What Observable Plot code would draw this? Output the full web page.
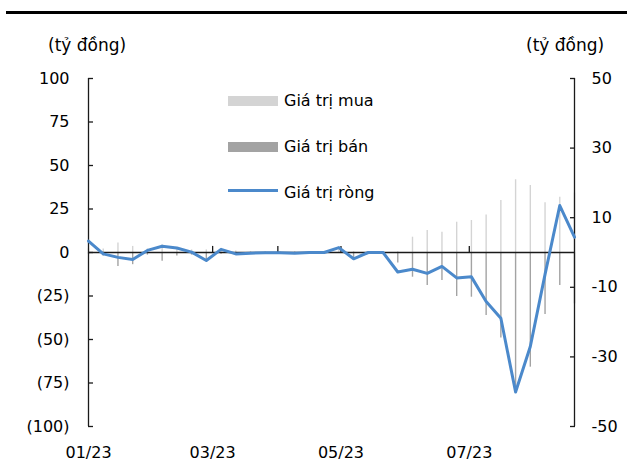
<!DOCTYPE html>
<html>
<head>
<meta charset="utf-8">
<script src="https://cdn.jsdelivr.net/npm/d3@7"></script>
<script src="https://cdn.jsdelivr.net/npm/@observablehq/plot@0.6"></script>
<style>
  html, body { margin: 0; padding: 0; background: #fff; }
  #wrap { position: relative; width: 627px; height: 464px; font-family: "DejaVu Sans", sans-serif; color: #000; overflow: hidden; }
  #wrap svg { position: absolute; left: 0; top: 0; }
  .topline { position: absolute; left: 6px; right: 0; top: 11px; height: 3px; background: #000; }
  .unit { position: absolute; top: 35px; font-size: 17px; line-height: 20px; white-space: nowrap; }
  .leg { position: absolute; left: 228px; width: 50px; }
  .legtext { position: absolute; left: 284px; font-size: 16px; line-height: 20px; white-space: nowrap; }
</style>
</head>
<body>
<div id="wrap">
  <div class="topline"></div>
  <div class="unit" style="left:48px">(tỷ đồng)</div>
  <div class="unit" style="left:526px">(tỷ đồng)</div>
</div>
<script>
// ---- data ----
const weeks = [
  "2023-01-01","2023-01-08","2023-01-15","2023-01-22","2023-01-29",
  "2023-02-05","2023-02-12","2023-02-19","2023-02-26",
  "2023-03-05","2023-03-12","2023-03-19","2023-03-26",
  "2023-04-02","2023-04-09","2023-04-16","2023-04-23","2023-04-30",
  "2023-05-07","2023-05-14","2023-05-21","2023-05-28",
  "2023-06-04","2023-06-11","2023-06-18","2023-06-25",
  "2023-07-02","2023-07-09","2023-07-16","2023-07-23","2023-07-30",
  "2023-08-06","2023-08-13","2023-08-20"
];
const buyValues = [
  2, 2, 5.5, 3.5, 2, 4.5, 2.5, 1.5, 1.5, 2, 0.8, 0.5, 0.5, 0.5, 0.5, 0.5, 0.5,
  2, 0.5, 0.5, 0.5, 0.5, 8.8, 12.6, 11.7, 17.4, 18.4, 21.6, 29.9, 41.8, 38.5, 28.6, 31.8, 34.1
];
const sellValues = [
  -1, -2, -8, -7, -1.5, -5, -2, -1.5, -5, -1, -1, -0.5, -0.5, -0.5, -0.5, -0.5, -0.5,
  -0.5, -4, -0.5, -0.5, -6, -14.2, -19, -16.1, -25.3, -25.7, -36.2, -49.2, -81, -65.9, -35.6, -19, -29.5
];
const netValues = [
  3.3, -0.4, -1.4, -2.0, 0.6, 1.8, 1.3, 0.1, -2.3, 0.9, -0.4, -0.2, -0.1, -0.1, -0.2, 0, 0,
  1.4, -1.8, 0, 0, -5.6, -4.8, -6.0, -4.0, -7.3, -7.0, -14.1, -18.9, -40.1, -27.0, -6.3, 13.5, 4.4
];
const leftTicks = [-100, -75, -50, -25, 0, 25, 50, 75, 100];
const rightTicks = [-50, -30, -10, 10, 30, 50];
const xLabelDates = ["2023-01-01", "2023-03-01", "2023-05-01", "2023-07-01"];
const xLabels = ["01/23", "03/23", "05/23", "07/23"];
const zeroTickDates = ["2023-03-01", "2023-04-01", "2023-05-01", "2023-07-01"];
const xDomain = ["2023-01-01", "2023-08-20"];
const leftMax = 100, rightMax = 50;
const legendItems = ["Giá trị mua", "Giá trị bán", "Giá trị ròng"];

// ---- build ----
const ratio = leftMax / rightMax;
const data = weeks.map((w, i) => ({
  date: new Date(w), buy: buyValues[i], sell: sellValues[i], net: netValues[i]
}));
const labelMap = new Map(xLabelDates.map((d, i) => [+new Date(d), xLabels[i]]));
const dom = xDomain.map(d => new Date(d));

const BUY = "#d4d4d4", SELL = "#a3a3a3", NET = "#4b89cb", AX = "#1a1a1a";

const chart = Plot.plot({
  width: 627,
  height: 464,
  marginTop: 78,
  marginBottom: 38,
  marginLeft: 88,
  marginRight: 53,
  style: { fontFamily: "DejaVu Sans", fontSize: "16px", color: "#000", background: "transparent" },
  x: { type: "utc", domain: dom },
  y: { domain: [-leftMax, leftMax] },
  marks: [
    Plot.ruleX(data, { x: "date", y1: 0, y2: "buy", stroke: BUY, strokeWidth: 1.4 }),
    Plot.ruleX(data, { x: "date", y1: 0, y2: "sell", stroke: SELL, strokeWidth: 1.4 }),
    Plot.ruleY([0], { stroke: AX, strokeWidth: 1.3 }),
    Plot.ruleX(zeroTickDates.map(d => new Date(d)), { x: d => d, y1: 0, y2: 3.5, stroke: AX, strokeWidth: 1.3 }),
    Plot.ruleX([dom[0]], { x: d => d, stroke: AX, strokeWidth: 1.3 }),
    Plot.ruleX([dom[1]], { x: d => d, stroke: AX, strokeWidth: 1.3 }),
    Plot.line(data, { x: "date", y: d => d.net * ratio, stroke: NET, strokeWidth: 3, strokeLinejoin: "round" }),
    Plot.axisY(leftTicks, {
      anchor: "left", tickSize: -5, tickPadding: 24, stroke: AX, strokeWidth: 1.3, label: null,
      tickFormat: d => d < 0 ? `(${-d})` : `${d}`
    }),
    Plot.axisY(rightTicks.map(v => v * ratio), {
      anchor: "right", tickSize: -5, tickPadding: 22, stroke: AX, strokeWidth: 1.3, label: null,
      tickFormat: d => String(d / ratio)
    }),
    Plot.axisX(xLabelDates.map(d => new Date(d)), {
      anchor: "bottom", tickSize: 0, tickPadding: 20, label: null,
      tickFormat: d => labelMap.get(+d)
    })
  ]
});
const wrap = document.getElementById("wrap");
wrap.insertBefore(chart, wrap.firstChild);

// legend (inside plot area)
const legTops = [96, 142, 188];
const legKinds = [BUY, SELL, NET];
legendItems.forEach((txt, i) => {
  const sw = document.createElement("div");
  sw.className = "leg";
  if (i < 2) {
    sw.style.top = legTops[i] + "px";
    sw.style.height = "10px";
    sw.style.background = legKinds[i];
  } else {
    sw.style.top = (legTops[i] + 1) + "px";
    sw.style.height = "3px";
    sw.style.background = legKinds[i];
  }
  wrap.appendChild(sw);
  const t = document.createElement("div");
  t.className = "legtext";
  t.style.top = (legTops[i] - 5) + "px";
  t.textContent = txt;
  wrap.appendChild(t);
});
</script>
</body>
</html>
